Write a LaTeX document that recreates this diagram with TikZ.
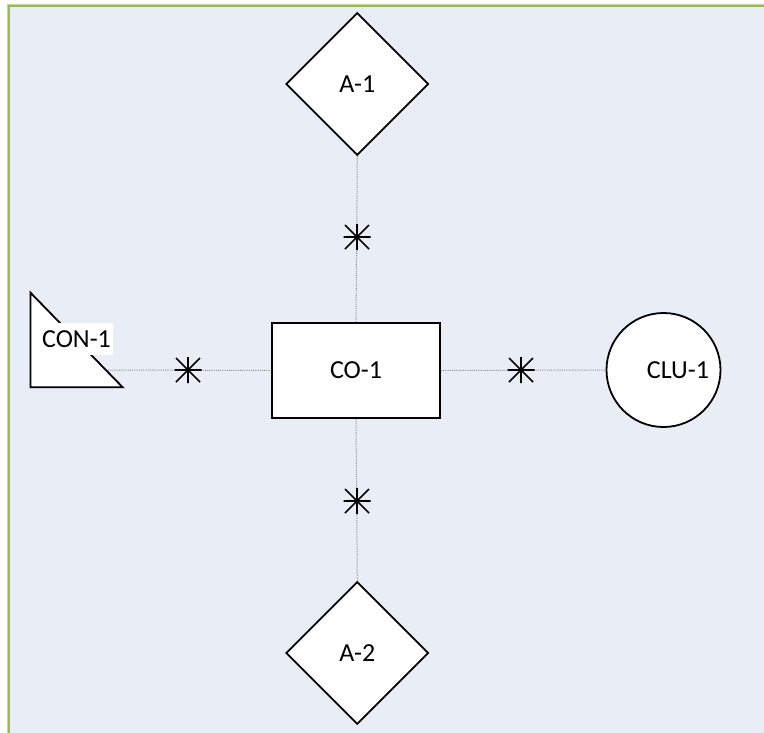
\documentclass[tikz,border=0pt]{standalone}
\usepackage{fontspec}
\setmainfont{Carlito}
\usetikzlibrary{shapes.geometric,calc}
\definecolor{bgfill}{HTML}{E8EDF6}
\definecolor{frame}{HTML}{9BBB59}
\definecolor{framelight}{HTML}{C3D69B}
\definecolor{conn}{HTML}{8C8C8C}
\tikzset{
  labelfont/.style={font=\fontsize{26}{31}\selectfont},
  shapebox/.style={draw=black, line width=1.8pt, fill=white, inner sep=0pt, labelfont},
  diam/.style={shapebox, diamond, minimum width=142.5pt, minimum height=142.5pt},
  connline/.style={draw=conn, line width=1pt, dash pattern=on 1pt off 1.2pt},
  starmark/.style={inner sep=0pt, minimum size=27pt,
    path picture={\draw[black, line width=1.6pt]
      ([xshift=-13.5pt]path picture bounding box.center) -- ([xshift=13.5pt]path picture bounding box.center)
      ([yshift=-13pt]path picture bounding box.center) -- ([yshift=13pt]path picture bounding box.center)
      ([shift={(-12pt,-12pt)}]path picture bounding box.center) -- ([shift={(12pt,12pt)}]path picture bounding box.center)
      ([shift={(-12pt,12pt)}]path picture bounding box.center) -- ([shift={(12pt,-12pt)}]path picture bounding box.center);}}
}
\begin{document}
\begin{tikzpicture}[x=1pt,y=-1pt]
\useasboundingbox (0,0) rectangle (764,732);
\clip (0,0) rectangle (764,732);
% background panel
\fill[bgfill] (8.5,5.5) rectangle (790,760);
\draw[framelight, line width=2.6pt] (8.5,770) -- (8.5,5.5) -- (790,5.5);
\draw[frame, line width=1.2pt] (9,770) -- (9,6) -- (790,6);

% shapes
\node[shapebox, rectangle, minimum width=168pt, minimum height=95pt] (co) at (356,370.5) {CO-1};
\node[diam] (a1) at (357.3,84) {A-1};
\node[diam] (a2) at (357.3,653) {A-2};
\node[shapebox, circle, minimum size=114pt] (clu) at (663.5,370) {};
\node[labelfont, inner sep=0pt] (clulabel) at (678,370) {CLU-1};

% triangle CON-1
\draw[black, line width=1.8pt, fill=white, line join=miter] (30.5,292.7) -- (30.5,387.3) -- (122.7,387.3) -- cycle;
\coordinate (con) at (108,370);
\node[fill=white, inner sep=0pt, minimum width=72pt, minimum height=32pt, labelfont] (conlabel) at (76.5,339) {CON-1};

% connectors
\draw[connline] (a1.south) -- (co.north);
\draw[connline] (co.south) -- (a2.north);
\draw[connline] (con) -- (co.west);
\draw[connline] (co.east) -- (clu.west);

% asterisks
\node[starmark] (s1) at (357,237) {};
\node[starmark] (s2) at (357,501) {};
\node[starmark] (s3) at (188,370) {};
\node[starmark] (s4) at (521,370) {};
\end{tikzpicture}
\end{document}
